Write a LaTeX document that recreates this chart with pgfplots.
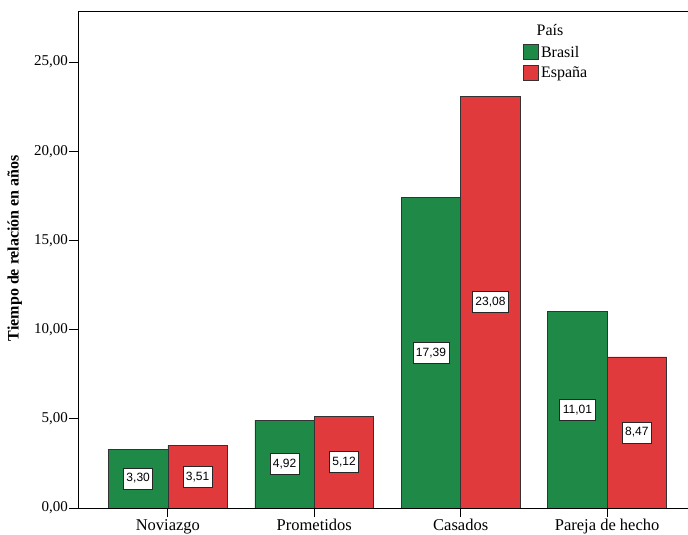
\documentclass[border=0pt]{standalone}
\usepackage{pgfplots}
\pgfplotsset{compat=1.18}
\usepackage{pgfplotstable}
\usepackage{fontspec}
\setmainfont{Liberation Serif}
\setsansfont{Liberation Sans}
\definecolor{brgreen}{HTML}{1F8A48}
\definecolor{esred}{HTML}{E03A3C}
\pgfplotstableread{
x br es
0 3.30 3.51
1 4.92 5.12
2 17.39 23.08
3 11.01 8.47
}\data
\begin{document}
\begin{tikzpicture}
\useasboundingbox (0,0) rectangle (688bp,535bp);
\begin{axis}[
  at={(78bp,27bp)}, anchor=south west,
  scale only axis, width=619bp, height=497bp,
  xmin=-0.614, xmax=3.614, ymin=0, ymax=27.86,
  axis line style={black, line width=0.9bp},
  xtick={0,1,2,3},
  xticklabels={Noviazgo,Prometidos,Casados,Pareja de hecho},
  ytick={0,5,10,15,20,25},
  xtick pos=bottom, ytick pos=left,
  tick align=outside,
  major tick length=9bp,
  tick style={black, line width=0.9bp},
  /pgf/number format/.cd, fixed, fixed zerofill, precision=2, use comma, assume math mode=true,
  /pgfplots/.cd,
  yticklabel style={font=\rmfamily\fontsize{15bp}{18bp}\selectfont, inner sep=1bp},
  xticklabel style={font=\rmfamily\fontsize{16.5bp}{19bp}\selectfont, inner sep=2bp},
  ylabel={\bfseries Tiempo de relación en años},
  ylabel style={font=\rmfamily\fontsize{16bp}{19bp}\selectfont, at={(axis description cs:-0.102,0.523)}, anchor=center},
  legend style={draw=none, fill=none, at={(axis description cs:0.719,0.934)}, anchor=north west,
    inner sep=0pt, row sep=4bp, font=\rmfamily\fontsize{16bp}{19bp}\selectfont,
    nodes={inner sep=2bp}},
  legend cell align=left,
  legend image code/.code={\draw[#1, line width=0.8bp] (0bp,-7.5bp) rectangle (15bp,7.5bp);},
]
\addplot[ybar, bar width=0.406, bar shift=-0.203, fill=brgreen, draw=black!80, line width=0.7bp] table[x=x, y=br] {\data};
\addlegendentry{Brasil}
\addplot[ybar, bar width=0.406, bar shift=0.203, fill=esred, draw=black!80, line width=0.7bp] table[x=x, y=es] {\data};
\addlegendentry{España}
\addplot[draw=none, mark=none, forget plot, point meta=explicit,
  nodes near coords={\sffamily\fontsize{12bp}{14bp}\selectfont\pgfmathprintnumber{\pgfplotspointmeta}},
  every node near coord/.append style={anchor=center, draw=black!85, line width=0.8bp, fill=white,
    inner xsep=3bp, inner ysep=0pt, minimum height=21bp}]
  table[x expr=\thisrow{x}-0.203, y expr=\thisrow{br}/2, meta=br] {\data};
\addplot[draw=none, mark=none, forget plot, point meta=explicit,
  nodes near coords={\sffamily\fontsize{12bp}{14bp}\selectfont\pgfmathprintnumber{\pgfplotspointmeta}},
  every node near coord/.append style={anchor=center, draw=black!85, line width=0.8bp, fill=white,
    inner xsep=3bp, inner ysep=0pt, minimum height=21bp}]
  table[x expr=\thisrow{x}+0.203, y expr=\thisrow{es}/2, meta=es] {\data};
\node[font=\rmfamily\fontsize{16bp}{19bp}\selectfont] at (rel axis cs:0.7625,0.962) {País};
\end{axis}
\end{tikzpicture}
\end{document}
